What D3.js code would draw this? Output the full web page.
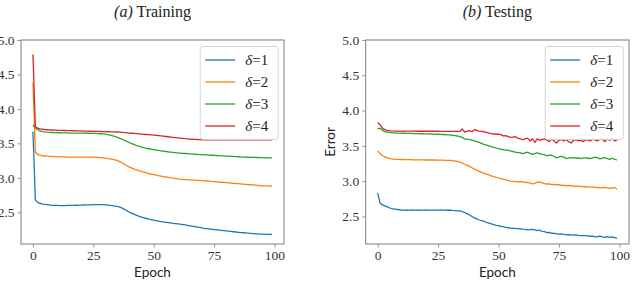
<!DOCTYPE html>
<html>
<head>
<meta charset="utf-8">
<script src="https://cdn.jsdelivr.net/npm/d3@7"></script>
<style>
  body { margin: 0; background: #fff; }
  svg { display: block; }
</style>
</head>
<body>
<svg id="chart" width="633" height="282"></svg>
<script>
// эпохи 0..99
const epochs = d3.range(0, 100);
const labels = ['1', '2', '3', '4'];
const colors = ['#1f77b4', '#ff7f0e', '#2ca02c', '#d62728'];
const xTicks = [0, 25, 50, 75, 100];
const yTicks = [2.5, 3.0, 3.5, 4.0, 4.5, 5.0];

// Training, δ=1..4
const train1 = [3.67,2.68,2.64,2.63,2.62,2.615,2.61,2.605,2.60,2.60,
2.60,2.598,2.598,2.598,2.60,2.60,2.60,2.60,2.602,2.604,
2.605,2.606,2.607,2.608,2.609,2.61,2.61,2.61,2.61,2.61,
2.608,2.605,2.60,2.596,2.59,2.585,2.575,2.56,2.54,2.52,
2.50,2.485,2.47,2.455,2.44,2.43,2.42,2.41,2.40,2.392,
2.385,2.378,2.372,2.366,2.36,2.355,2.35,2.345,2.34,2.336,
2.332,2.328,2.322,2.316,2.31,2.304,2.298,2.292,2.286,2.28,
2.274,2.268,2.263,2.258,2.254,2.25,2.246,2.242,2.238,2.234,
2.23,2.226,2.222,2.218,2.214,2.21,2.206,2.203,2.20,2.197,
2.194,2.191,2.188,2.186,2.184,2.183,2.182,2.181,2.18,2.18];
const train2 = [4.38,3.37,3.34,3.33,3.32,3.317,3.314,3.312,3.31,3.308,
3.306,3.305,3.304,3.303,3.302,3.30,3.30,3.30,3.30,3.30,
3.30,3.30,3.30,3.30,3.30,3.30,3.298,3.296,3.294,3.29,
3.285,3.28,3.275,3.268,3.26,3.25,3.235,3.215,3.195,3.175,
3.155,3.14,3.126,3.114,3.102,3.092,3.082,3.072,3.063,3.055,
3.047,3.04,3.032,3.025,3.018,3.012,3.006,3.00,2.995,2.99,
2.986,2.982,2.978,2.975,2.972,2.97,2.968,2.966,2.964,2.962,
2.96,2.957,2.954,2.951,2.948,2.945,2.942,2.939,2.936,2.933,
2.93,2.927,2.924,2.921,2.918,2.915,2.912,2.909,2.906,2.903,
2.90,2.897,2.894,2.891,2.888,2.885,2.883,2.882,2.881,2.88];
const train3 = [3.77,3.72,3.70,3.68,3.672,3.667,3.663,3.66,3.658,3.656,
3.655,3.654,3.653,3.652,3.651,3.65,3.65,3.65,3.65,3.65,
3.65,3.649,3.648,3.647,3.646,3.645,3.644,3.642,3.64,3.637,
3.633,3.628,3.62,3.61,3.60,3.588,3.574,3.558,3.542,3.526,
3.51,3.495,3.481,3.468,3.456,3.446,3.437,3.429,3.422,3.415,
3.409,3.403,3.397,3.392,3.387,3.382,3.378,3.374,3.37,3.366,
3.362,3.359,3.356,3.353,3.35,3.347,3.344,3.342,3.34,3.338,
3.336,3.334,3.332,3.33,3.328,3.326,3.324,3.322,3.32,3.318,
3.316,3.314,3.312,3.31,3.308,3.306,3.304,3.302,3.30,3.299,
3.298,3.297,3.296,3.295,3.294,3.293,3.292,3.291,3.29,3.29];
const train4 = [4.79,3.74,3.72,3.71,3.705,3.70,3.698,3.696,3.694,3.692,
3.69,3.689,3.688,3.687,3.686,3.685,3.684,3.683,3.682,3.681,
3.68,3.679,3.678,3.677,3.676,3.675,3.674,3.673,3.672,3.671,
3.67,3.669,3.668,3.667,3.666,3.665,3.662,3.659,3.656,3.653,
3.65,3.647,3.644,3.641,3.638,3.635,3.632,3.629,3.626,3.623,
3.62,3.616,3.612,3.608,3.604,3.60,3.596,3.592,3.588,3.584,
3.58,3.576,3.572,3.568,3.565,3.562,3.56,3.558,3.556,3.554,
3.553,3.552,3.551,3.55,3.55,3.55,3.55,3.55,3.55,3.55,
3.55,3.55,3.55,3.55,3.55,3.55,3.55,3.55,3.55,3.55,
3.55,3.55,3.55,3.55,3.55,3.55,3.55,3.55,3.55,3.55];

// Testing, δ=1..4
const test1 = [2.83,2.69,2.66,2.65,2.635,2.62,2.61,2.605,2.60,2.595,
2.59,2.59,2.588,2.59,2.592,2.59,2.59,2.588,2.59,2.59,
2.592,2.59,2.59,2.589,2.59,2.59,2.592,2.59,2.59,2.588,
2.588,2.585,2.584,2.58,2.578,2.57,2.555,2.54,2.52,2.50,
2.48,2.465,2.45,2.44,2.43,2.415,2.405,2.395,2.385,2.375,
2.37,2.36,2.355,2.345,2.34,2.335,2.33,2.33,2.328,2.325,
2.32,2.318,2.31,2.315,2.318,2.31,2.30,2.305,2.29,2.285,
2.27,2.275,2.26,2.262,2.255,2.25,2.252,2.245,2.24,2.243,
2.24,2.235,2.238,2.232,2.23,2.23,2.228,2.225,2.22,2.222,
2.21,2.215,2.22,2.21,2.205,2.215,2.205,2.21,2.20,2.19];
const test2 = [3.43,3.39,3.36,3.345,3.33,3.32,3.315,3.31,3.31,3.308,
3.307,3.306,3.305,3.305,3.304,3.303,3.303,3.302,3.302,3.301,
3.30,3.30,3.30,3.30,3.299,3.298,3.298,3.297,3.296,3.296,
3.295,3.29,3.285,3.28,3.27,3.255,3.24,3.225,3.21,3.19,
3.17,3.155,3.14,3.125,3.11,3.10,3.09,3.075,3.065,3.055,
3.045,3.035,3.03,3.02,3.01,3.00,2.998,2.995,2.99,2.992,
2.99,2.985,2.98,2.975,2.96,2.97,2.985,2.99,2.975,2.965,
2.96,2.962,2.95,2.955,2.948,2.95,2.94,2.945,2.935,2.94,
2.935,2.93,2.932,2.925,2.928,2.92,2.922,2.918,2.915,2.918,
2.91,2.912,2.905,2.91,2.912,2.905,2.90,2.905,2.91,2.885];
const test3 = [3.74,3.75,3.72,3.70,3.695,3.69,3.685,3.683,3.681,3.68,
3.68,3.679,3.678,3.677,3.676,3.675,3.674,3.673,3.672,3.671,
3.67,3.669,3.668,3.667,3.666,3.665,3.663,3.661,3.659,3.657,
3.655,3.65,3.645,3.64,3.63,3.62,3.60,3.595,3.59,3.58,
3.57,3.56,3.55,3.535,3.52,3.51,3.50,3.49,3.48,3.47,
3.46,3.455,3.445,3.44,3.435,3.43,3.42,3.41,3.405,3.40,
3.39,3.40,3.41,3.395,3.38,3.39,3.40,3.39,3.38,3.375,
3.36,3.37,3.365,3.35,3.33,3.345,3.35,3.34,3.32,3.33,
3.33,3.335,3.325,3.33,3.32,3.33,3.33,3.325,3.32,3.33,
3.34,3.33,3.315,3.325,3.335,3.32,3.31,3.325,3.31,3.30];
const test4 = [3.83,3.80,3.75,3.73,3.72,3.715,3.712,3.71,3.71,3.71,
3.71,3.709,3.709,3.708,3.708,3.708,3.707,3.707,3.707,3.707,
3.707,3.707,3.707,3.707,3.707,3.707,3.706,3.706,3.706,3.706,
3.706,3.706,3.705,3.705,3.705,3.74,3.695,3.71,3.715,3.70,
3.73,3.72,3.71,3.705,3.70,3.69,3.68,3.675,3.67,3.665,
3.665,3.66,3.64,3.645,3.63,3.62,3.625,3.63,3.61,3.60,
3.59,3.60,3.61,3.57,3.60,3.55,3.60,3.58,3.59,3.60,
3.58,3.56,3.60,3.57,3.54,3.58,3.59,3.57,3.59,3.56,
3.54,3.58,3.59,3.57,3.58,3.56,3.59,3.58,3.57,3.60,
3.58,3.57,3.60,3.59,3.56,3.60,3.58,3.61,3.57,3.58];

const svg = d3.select('#chart');

// Одна панель: рамка, оси, линии, легенда
const drawPanel = (opts) => {
    const { left, right, top, bottom, yMin, series, title, ylabel, id } = opts;

    const x = d3.scaleLinear().domain([-4.95, 103.95]).range([left, right]);
    const y = d3.scaleLinear().domain([yMin, 5.0]).range([bottom, top]);

    const g = svg.append('g');

    svg.append('clipPath').attr('id', 'clip' + id)
        .append('rect')
        .attr('x', left).attr('y', top)
        .attr('width', right - left).attr('height', bottom - top);

    // оси
    const xAxis = g.append('g')
        .attr('transform', `translate(0,${bottom})`)
        .call(d3.axisBottom(x).tickValues(xTicks).tickFormat(d3.format('d')).tickSize(3.5).tickPadding(3));
    const yAxis = g.append('g')
        .attr('transform', `translate(${left},0)`)
        .call(d3.axisLeft(y).tickValues(yTicks).tickFormat(d3.format('.1f')).tickSize(3.5).tickPadding(3));
    [xAxis, yAxis].forEach((a) => {
        a.attr('font-family', null).attr('font-size', null);
        a.select('.domain').remove();
        a.selectAll('.tick line').attr('stroke', '#888').attr('stroke-width', 0.9);
        a.selectAll('.tick text')
            .style('font-family', '"Liberation Serif", "DejaVu Serif", serif')
            .style('font-size', '13.5px')
            .attr('fill', '#333');
    });

    // линии
    const line = d3.line()
        .x((d, i) => x(epochs[i]))
        .y((d) => y(d));
    g.append('g').attr('clip-path', `url(#clip${id})`)
        .selectAll('path')
        .data(series)
        .enter()
        .append('path')
        .attr('d', (d) => line(d))
        .attr('fill', 'none')
        .attr('stroke', (d, i) => colors[i])
        .attr('stroke-width', 1.3)
        .attr('stroke-linejoin', 'round');

    // рамка
    g.append('rect')
        .attr('x', left).attr('y', top)
        .attr('width', right - left).attr('height', bottom - top)
        .attr('fill', 'none')
        .attr('stroke', '#888')
        .attr('stroke-width', 1.1);

    // легенда
    const lw = 78, lh = 93;
    const lx = right - 5.8 - lw, ly = top + 6.5;
    const leg = g.append('g').attr('transform', `translate(${lx},${ly})`);
    leg.append('rect')
        .attr('width', lw).attr('height', lh)
        .attr('rx', 2.5)
        .attr('fill', '#fff').attr('fill-opacity', 0.8)
        .attr('stroke', '#d0d0d0').attr('stroke-width', 0.9);
    const items = leg.selectAll('g.item')
        .data(labels)
        .enter()
        .append('g')
        .attr('transform', (d, i) => `translate(0,${13.5 + i * 22})`);
    items.append('line')
        .attr('x1', 5).attr('x2', 35)
        .attr('stroke', (d, i) => colors[i])
        .attr('stroke-width', 1.3);
    const t = items.append('text')
        .attr('x', 45).attr('dy', '0.35em')
        .style('font-family', '"Liberation Serif", serif')
        .style('font-size', '15px')
        .attr('fill', '#222');
    t.append('tspan').style('font-style', 'italic').text('δ');
    t.append('tspan').text((d) => '=' + d);

    // подписи
    svg.append('text')
        .attr('x', (left + right) / 2).attr('y', 17)
        .attr('text-anchor', 'middle')
        .style('font-family', '"Liberation Serif", serif')
        .style('font-size', '16px')
        .attr('fill', '#222')
        .call((s) => {
            s.append('tspan').style('font-style', 'italic').text(title[0]);
            s.append('tspan').text(' ' + title[1]);
        });

    svg.append('text')
        .attr('x', (left + right) / 2).attr('y', 276.5)
        .attr('text-anchor', 'middle')
        .style('font-family', 'Lato, sans-serif')
        .style('font-size', '13.5px')
        .attr('fill', '#222')
        .text('Epoch');

    if (ylabel) {
        svg.append('text')
            .attr('transform', `translate(${left - 31},${(top + bottom) / 2}) rotate(-90)`)
            .attr('text-anchor', 'middle')
            .style('font-family', 'Lato, sans-serif')
            .style('font-size', '13.5px')
            .attr('fill', '#222')
            .text(ylabel);
    }
};

drawPanel({
    id: 'a', left: 21, right: 284, top: 40, bottom: 244, yMin: 2.04,
    series: [train1, train2, train3, train4],
    title: ['(a)', 'Training'], ylabel: null
});
drawPanel({
    id: 'b', left: 365.7, right: 629, top: 40, bottom: 244, yMin: 2.11,
    series: [test1, test2, test3, test4],
    title: ['(b)', 'Testing'], ylabel: 'Error'
});
</script>
</body>
</html>
